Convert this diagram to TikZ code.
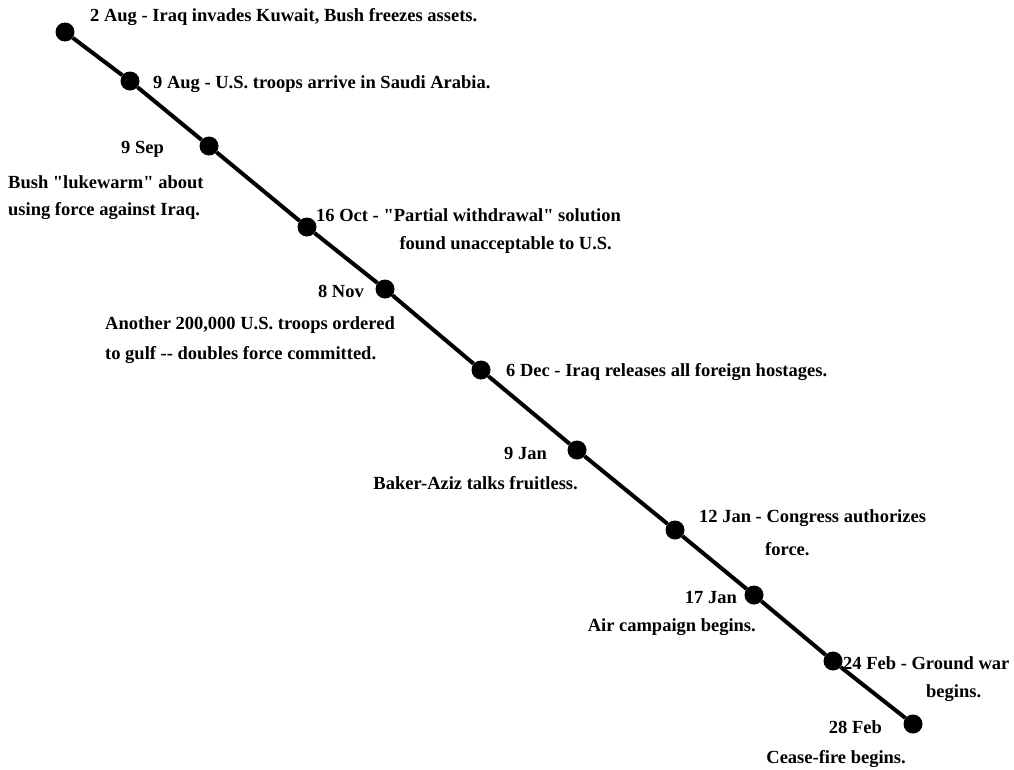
\documentclass[tikz,border=0pt]{standalone}
\usepackage{fontspec}
\setmainfont{Liberation Serif}[Ligatures=TeXOff]
\begin{document}
\begin{tikzpicture}[x=1pt,y=-1pt,
  dot/.style={circle,fill=black,inner sep=0pt,minimum size=19pt},
  lbl/.style={font=\bfseries\fontsize{18.5}{21}\selectfont,inner sep=0pt,anchor=west},
  rlbl/.style={lbl,anchor=east},
  link/.style={line width=4pt}]
\useasboundingbox (0,0) rectangle (1014,769);
% dots
\node[dot] (d1) at (65,32) {};
\node[dot] (d2) at (130,81) {};
\node[dot] (d3) at (209,146) {};
\node[dot] (d4) at (307,227) {};
\node[dot] (d5) at (385,289) {};
\node[dot] (d6) at (481,370) {};
\node[dot] (d7) at (577,450) {};
\node[dot] (d8) at (675,530) {};
\node[dot] (d9) at (754,595) {};
\node[dot] (d10) at (833,661) {};
\node[dot] (d11) at (913,724) {};
\foreach \a/\b in {d1/d2,d2/d3,d3/d4,d4/d5,d5/d6,d6/d7,d7/d8,d8/d9,d9/d10,d10/d11}
  \draw[link] (\a) -- (\b);
% labels
\node[lbl] (t1) at (90,17) {2 Aug - Iraq invades Kuwait, Bush freezes assets.};
\node[lbl] (t2) at (153,84) {9 Aug - U.S. troops arrive in Saudi Arabia.};
\node[rlbl] (t3a) at (164,149) {9 Sep};
\node[lbl] (t3b) at (8,182) {Bush "lukewarm" about};
\node[lbl] (t3c) at (8,211) {using force against Iraq.};
\node[lbl] (t4a) at (316,215) {16 Oct - "Partial withdrawal" solution};
\node[rlbl] (t4b) at (612,245) {found unacceptable to U.S.};
\node[rlbl] (t5a) at (364,291) {8 Nov};
\node[lbl] (t5b) at (105,325) {Another 200,000 U.S. troops ordered};
\node[lbl] (t5c) at (105,355) {to gulf -- doubles force committed.};
\node[lbl] (t6) at (506,372) {6 Dec - Iraq releases all foreign hostages.};
\node[rlbl] (t7a) at (547,453) {9 Jan};
\node[rlbl] (t7b) at (578,483) {Baker-Aziz talks fruitless.};
\node[lbl] (t8a) at (699,518) {12 Jan - Congress authorizes};
\node[lbl] (t8b) at (765,549) {force.};
\node[rlbl] (t9a) at (737,597) {17 Jan};
\node[rlbl] (t9b) at (756,627) {Air campaign begins.};
\node[lbl] (t10a) at (843,663) {24 Feb - Ground war};
\node[lbl] (t10b) at (926,693) {begins.};
\node[rlbl] (t11a) at (882,727) {28 Feb};
\node[rlbl] (t11b) at (906,759) {Cease-fire begins.};
\end{tikzpicture}
\end{document}
